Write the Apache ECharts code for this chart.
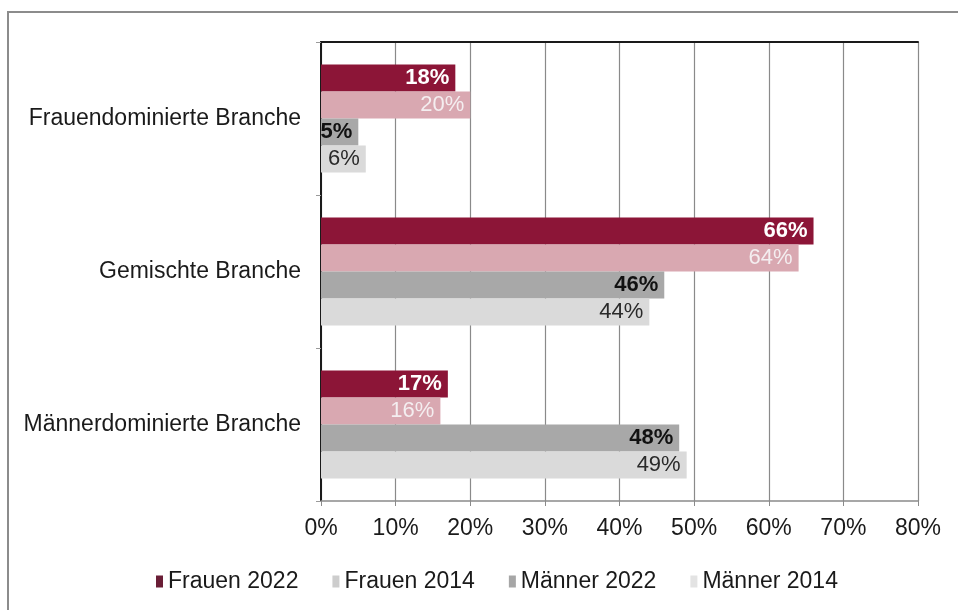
<!DOCTYPE html>
<html>
<head>
<meta charset="utf-8">
<script src="https://cdn.jsdelivr.net/npm/echarts@6/dist/echarts.min.js"></script>
<style>
    html, body { margin: 0; padding: 0; background: #fff; }
    #chart { width: 958px; height: 610px; }
</style>
</head>
<body>
<div id="chart"></div>
<script>
// Kategorien und Werte (in %)
const branchen = ['Frauendominierte Branche', 'Gemischte Branche', 'Männerdominierte Branche'];
const frauen2022 = [18, 66, 17];
const frauen2014 = [20, 64, 16];
const maenner2022 = [5, 46, 48];
const maenner2014 = [6, 44, 49];
const xTicks = [0, 10, 20, 30, 40, 50, 60, 70, 80];

const FONT = '"Liberation Sans", Arial, sans-serif';

// Serie mit Beschriftung innen rechts
function makeSeries(name, data, color, labelColor, bold) {
    return {
        name: name,
        type: 'bar',
        data: data,
        barWidth: 27,
        barGap: '0%',
        itemStyle: { color: color },
        label: {
            show: true,
            position: 'insideRight',
            distance: 6,
            formatter: '{c}%',
            color: labelColor,
            fontSize: 22,
            fontWeight: bold ? 'bold' : 'normal',
            fontFamily: FONT
        }
    };
}

const chart = echarts.init(document.getElementById('chart'));

const option = {
    animation: false,
    textStyle: { fontFamily: FONT },
    graphic: [{
        type: 'rect',
        shape: { x: 8, y: 12, width: 960, height: 610 },
        style: { fill: 'none', stroke: '#8c8c8c', lineWidth: 2 },
        silent: true
    }],
    grid: { left: 321, right: 40, top: 42, bottom: 109 },
    legend: {
        left: 151,
        top: 565,
        itemWidth: 7,
        itemHeight: 12,
        itemGap: 34,
        textStyle: { fontSize: 23, color: '#1a1a1a', fontFamily: FONT },
        data: [
            { name: 'Frauen 2022', icon: 'rect', itemStyle: { color: '#6a1e36' } },
            { name: 'Frauen 2014', icon: 'rect', itemStyle: { color: '#cdcdcd' } },
            { name: 'Männer 2022', icon: 'rect', itemStyle: { color: '#a6a6a6' } },
            { name: 'Männer 2014', icon: 'rect', itemStyle: { color: '#e3e3e3' } }
        ]
    },
    xAxis: [{
        type: 'value',
        min: xTicks[0],
        max: xTicks[xTicks.length - 1],
        interval: 10,
        axisLine: { show: true, lineStyle: { color: '#8a8a8a', width: 1.5 } },
        axisTick: { show: true, length: 5, lineStyle: { color: '#8a8a8a' } },
        axisLabel: {
            formatter: '{value}%',
            fontSize: 23,
            color: '#1a1a1a',
            margin: 16,
            fontFamily: FONT
        },
        splitLine: { show: true, lineStyle: { color: '#8a8a8a', width: 1.2 } }
    }, {
        // obere Rahmenlinie
        type: 'value',
        position: 'top',
        min: 0,
        max: 80,
        axisLine: { show: true, lineStyle: { color: '#1a1a1a', width: 2 } },
        axisTick: { show: false },
        axisLabel: { show: false },
        splitLine: { show: false }
    }],
    yAxis: [{
        type: 'category',
        data: branchen,
        inverse: true,
        axisLine: { show: true, lineStyle: { color: '#9a9a9a', width: 1.5 } },
        axisTick: { show: true, length: 5, lineStyle: { color: '#9a9a9a' } },
        axisLabel: {
            fontSize: 23,
            color: '#1a1a1a',
            margin: 20,
            fontFamily: FONT
        }
    }, {
        // rechte Rahmenlinie
        type: 'category',
        data: branchen,
        inverse: true,
        position: 'right',
        axisLine: { show: true, lineStyle: { color: '#1a1a1a', width: 2 } },
        axisTick: { show: false },
        axisLabel: { show: false }
    }],
    series: [
        makeSeries('Frauen 2022', frauen2022, '#8c1537', '#ffffff', true),
        makeSeries('Frauen 2014', frauen2014, '#d9a8b1', '#f4eef0', false),
        makeSeries('Männer 2022', maenner2022, '#a8a8a8', '#111111', true),
        makeSeries('Männer 2014', maenner2014, '#dadada', '#2a2a2a', false)
    ]
};

chart.setOption(option);
</script>
</body>
</html>
